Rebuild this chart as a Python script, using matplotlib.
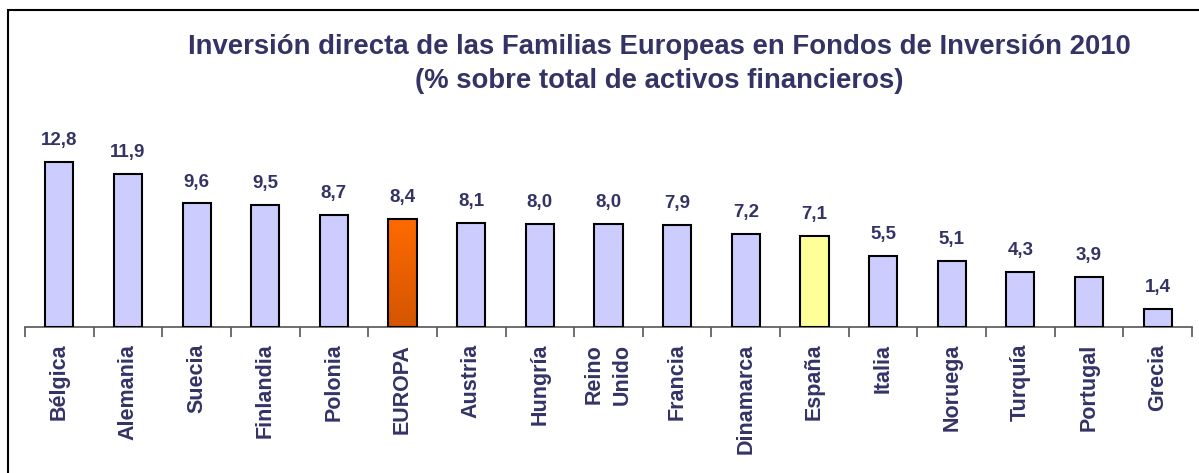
import numpy as np
import matplotlib
matplotlib.use("Agg")
import matplotlib.pyplot as plt
from matplotlib.patches import Rectangle

plt.rcParams['font.family'] = ['Liberation Sans', 'DejaVu Sans']

paises = ["Bélgica", "Alemania", "Suecia", "Finlandia", "Polonia", "EUROPA",
          "Austria", "Hungría", "Reino\nUnido", "Francia", "Dinamarca", "España",
          "Italia", "Noruega", "Turquía", "Portugal", "Grecia"]
valores = [12.8, 11.9, 9.6, 9.5, 8.7, 8.4, 8.1, 8.0, 8.0, 7.9, 7.2, 7.1,
           5.5, 5.1, 4.3, 3.9, 1.4]

navy = "#333366"
lila = "#CCCCFF"
amarillo = "#FFFF99"

fig = plt.figure(figsize=(11.99, 4.73), dpi=100)
ax = fig.add_axes([25 / 1199, 146 / 473, 1167 / 1199, 206 / 473])

x = np.arange(len(paises))
colores = [lila] * len(paises)
colores[paises.index("EUROPA")] = "none"
colores[paises.index("España")] = amarillo
barras = ax.bar(x, valores, width=0.41, color=colores, edgecolor="black",
                linewidth=1.5, zorder=3)

# degradado naranja para EUROPA
b = barras[paises.index("EUROPA")]
grad = np.linspace(0, 1, 100).reshape(-1, 1)
cmap = matplotlib.colors.LinearSegmentedColormap.from_list("eu", ["#D45500", "#FF6A00"])
ax.imshow(grad, cmap=cmap, origin="lower", aspect="auto", zorder=2,
          extent=[b.get_x(), b.get_x() + b.get_width(), 0, b.get_height()])

for xi, v in zip(x, valores):
    ax.text(xi, v + 1.0, f"{v:.1f}".replace(".", ","), ha="center", va="bottom",
            fontsize=13.5, fontweight="bold", color=navy)

ax.set_xlim(-0.5, len(paises) - 0.5)
ax.set_ylim(0, 16)
ax.set_yticks([])
for s in ["top", "right", "left"]:
    ax.spines[s].set_visible(False)
ax.spines["bottom"].set_color("#555555")
ax.spines["bottom"].set_linewidth(1.2)

ax.set_xticks(x)
ax.set_xticklabels(paises, rotation=90, fontsize=15.5, fontweight="bold", color=navy)
for t in ax.get_xticklabels():
    t.set_linespacing(1.45)
ax.tick_params(axis="x", which="major", length=0, pad=12)
ax.set_xticks(np.arange(-0.5, len(paises)), minor=True)
ax.tick_params(axis="x", which="minor", length=7, width=1.2, color="#555555")

fig.text(0.55, 0.9, "Inversión directa de las Familias Europeas en Fondos de Inversión 2010",
         ha="center", va="center", fontsize=19.8, fontweight="bold", color=navy)
fig.text(0.55, 0.828, "(% sobre total de activos financieros)",
         ha="center", va="center", fontsize=19.8, fontweight="bold", color=navy)

marco = Rectangle((8 / 1199, -0.1), 1.2, (473 - 10) / 473 + 0.1, transform=fig.transFigure,
                  fill=False, edgecolor="black", linewidth=1.5)
fig.patches.append(marco)

fig.savefig("out.png", dpi=100)
